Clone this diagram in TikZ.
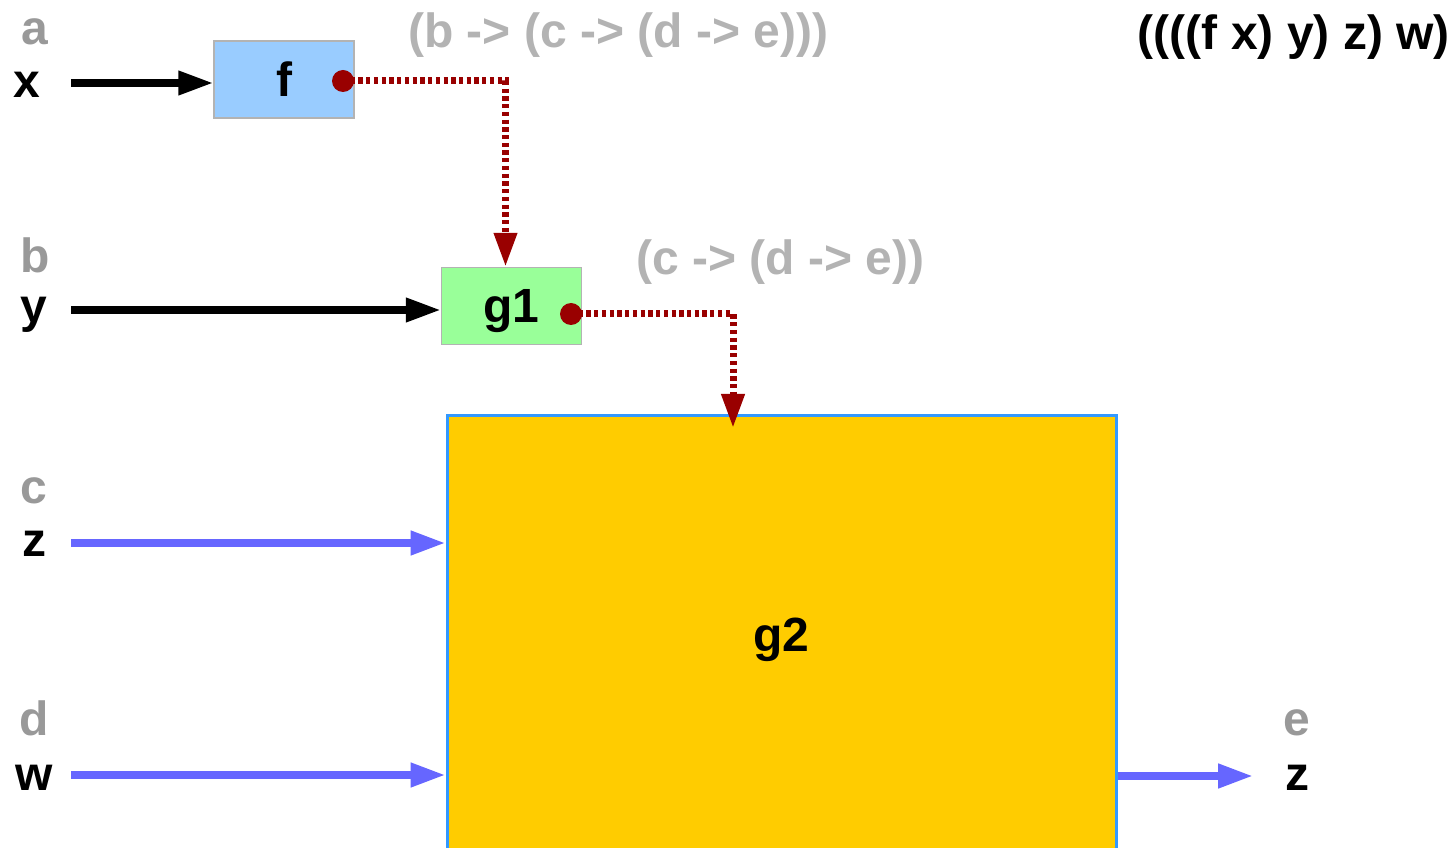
\documentclass[tikz,border=0pt]{standalone}
\usepackage{fontspec}
\setmainfont{Liberation Sans}
\usetikzlibrary{arrows.meta}
\definecolor{lblgray}{HTML}{999999}
\definecolor{ttlgray}{HTML}{B3B3B3}
\definecolor{dred}{HTML}{990000}
\definecolor{arrblue}{HTML}{6666FF}
\definecolor{fblue}{HTML}{99CCFF}
\definecolor{ggreen}{HTML}{99FF99}
\definecolor{gyellow}{HTML}{FFCC00}
\definecolor{gborder}{HTML}{3399FF}
\definecolor{bxborder}{HTML}{B3B3B3}
\tikzset{
  bigtext/.style={font=\fontsize{36}{43}\selectfont\bfseries},
  lbl/.style={bigtext, anchor=base, inner sep=0pt},
  smallbox/.style={draw=bxborder, line width=1.1pt, minimum width=105pt, minimum height=57.75pt,
     bigtext, text height=27pt, text depth=1.8pt, inner sep=0pt},
  blackarrow/.style={line width=5.4pt, black, -{Triangle[length=26.25pt, width=17.25pt]}},
  bluearrow/.style={line width=5.6pt, arrblue, -{Triangle[length=26.25pt, width=17.25pt]}},
  reddash/.style={line width=5.25pt, dred, dash pattern=on 3.2pt off 2.6pt, -{Triangle[length=25.5pt, width=16.5pt]}},
  reddot/.style={circle, fill=dred, minimum size=16.5pt, inner sep=0pt},
}
\begin{document}
\begin{tikzpicture}[x=0.75pt, y=-0.75pt]
\path[use as bounding box, clip] (0,0) rectangle (1456,848);
\fill[white] (0,0) rectangle (1456,848);

% boxes
\node[smallbox, fill=fblue] (f) at (284,79.5) {f};
\node[smallbox, fill=ggreen] (g1) at (511.5,306) {g1};
\node[draw=gborder, fill=gyellow, line width=2.25pt, minimum width=501.75pt, minimum height=336.75pt,
      bigtext, text height=26.3pt, text depth=7.6pt, inner sep=0pt] (g2) at (781.5,639.5) {g2};

% left labels
\node[lbl, text=lblgray] (la) at (35,45) {a};
\node[lbl] (lx) at (27,98) {x};
\node[lbl, text=lblgray] (lb) at (35,273) {b};
\node[lbl] (ly) at (34,323) {y};
\node[lbl, text=lblgray] (lc) at (34,503) {c};
\node[lbl] (lz) at (34,556) {z};
\node[lbl, text=lblgray] (ld) at (34,735) {d};
\node[lbl] (lw) at (34,790) {w};
% right labels
\node[lbl, text=lblgray] (le) at (1297,735) {e};
\node[lbl] (lz2) at (1297,790) {z};

% type annotations
\node[lbl, anchor=base west, text=ttlgray] (t1) at (408,48) {(b -> (c -> (d -> e)))};
\node[lbl, anchor=base west, text=ttlgray] (t2) at (636,275) {(c -> (d -> e))};
\node[lbl, anchor=base east] (t3) at (1450,50) {((((f x) y) z) w)};

% input arrows
\coordinate (sx) at (71,83);
\coordinate (sy) at (71,310);
\coordinate (sz) at (71,543);
\coordinate (sw) at (71,775);
\coordinate (ow) at (1253,776);
\draw[blackarrow] (sx) -- (sx -| f.west);
\draw[blackarrow] (sy) -- (sy -| g1.west);
\draw[bluearrow] (sz) -- (sz -| g2.west);
\draw[bluearrow] (sw) -- (sw -| g2.west);
\draw[bluearrow] (ow -| g2.east) -- (ow);

% red dotted connectors
\coordinate (fdc) at (343,81);
\coordinate (k1) at (505.5,81);
\draw[reddash] (fdc) -- (k1) -- (k1 |- g1.north);
\node[reddot] (fdot) at (fdc) {};

\coordinate (gdc) at (571,314);
\coordinate (k2) at (733,314);
\coordinate (e2) at (733,428);
\draw[reddash] (gdc) -- (k2) -- (e2);
\node[reddot] (gdot) at (gdc) {};
\end{tikzpicture}
\end{document}
